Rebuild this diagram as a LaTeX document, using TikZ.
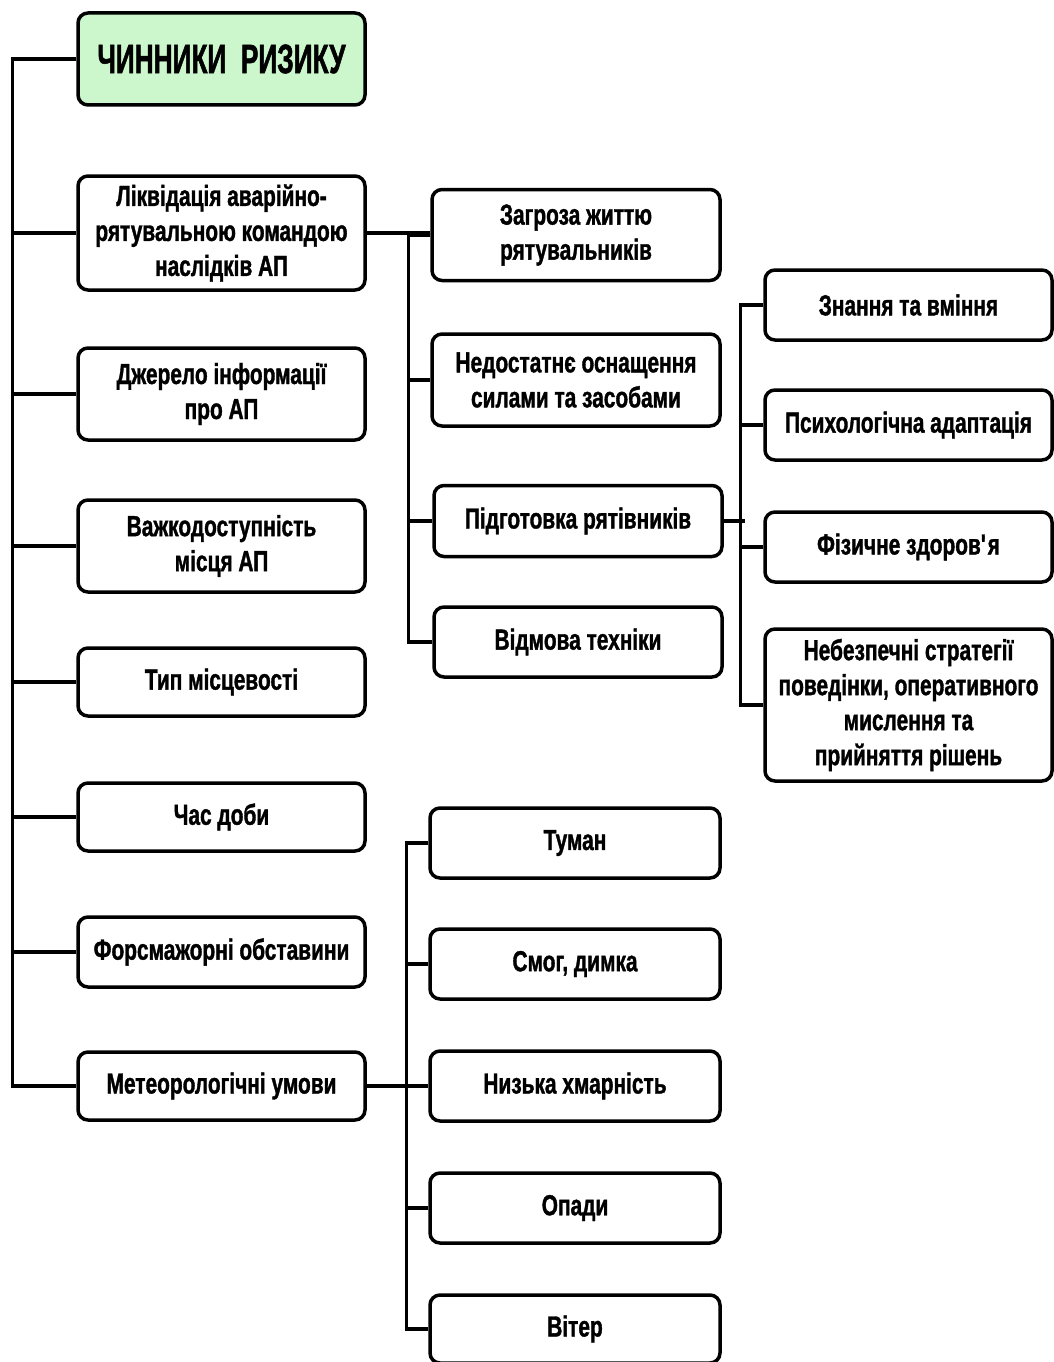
\documentclass[tikz,border=0pt]{standalone}
\usepackage{fontspec}
\setmainfont{Liberation Sans}[FakeStretch=0.72, FakeBold=1.2]
\newfontfamily\rootfont{Liberation Sans}[FakeStretch=0.64, FakeBold=1.2]
\usepackage{tikz}
\usepackage{xcolor}
\definecolor{rootgreen}{HTML}{CCF7CC}

\tikzset{
box/.style={draw, line width=3.5pt, rounded corners=10pt, fill=white, align=center,
  font=\fontsize{29}{35}\selectfont\bfseries, inner sep=2pt},
link/.style={line width=3.5pt}
}

\begin{document}
\begin{tikzpicture}[x=1pt,y=-1pt]
\useasboundingbox (0,0) rectangle (1054,1362);
% left column
\node[box, fill=rootgreen, minimum width=287pt, minimum height=92pt, font=\rootfont\fontsize{41}{45}\selectfont\bfseries] (root) at (221.5,59) {ЧИННИКИ\ \ РИЗИКУ};
\node[box, minimum width=287pt, minimum height=114pt] (liq) at (221.5,233) {Ліквідація аварійно-\\рятувальною командою\\наслідків АП};
\node[box, minimum width=287pt, minimum height=92pt] (dzh) at (221.5,394) {Джерело інформації\\про АП};
\node[box, minimum width=287pt, minimum height=92pt] (vazh) at (221.5,546) {Важкодоступність\\місця АП};
\node[box, minimum width=287pt, minimum height=68pt] (typ) at (221.5,682) {Тип місцевості};
\node[box, minimum width=287pt, minimum height=68pt] (chas) at (221.5,817) {Час доби};
\node[box, minimum width=287pt, minimum height=70pt] (fors) at (221.5,952) {Форсмажорні обставини};
\node[box, minimum width=287pt, minimum height=68pt] (meteo) at (221.5,1086) {Метеорологічні умови};
% middle column, top
\node[box, minimum width=288pt, minimum height=91pt] (zahr) at (576,235) {Загроза життю\\рятувальників};
\node[box, minimum width=288pt, minimum height=92pt] (nedo) at (576,380) {Недостатнє оснащення\\силами та засобами};
\node[box, minimum width=288pt, minimum height=71pt] (pidh) at (578,521) {Підготовка рятівників};
\node[box, minimum width=288pt, minimum height=70pt] (vidm) at (578,642) {Відмова техніки};
% right column
\node[box, minimum width=287pt, minimum height=70pt] (znan) at (908.5,305) {Знання та вміння};
\node[box, minimum width=287pt, minimum height=70pt] (psyh) at (908.5,425) {Психологічна адаптація};
\node[box, minimum width=287pt, minimum height=70pt] (fiz) at (908.5,547) {Фізичне здоров\textquotesingle я};
\node[box, minimum width=287pt, minimum height=152pt] (nebez) at (908.5,705) {Небезпечні стратегії\\поведінки, оперативного\\мислення та\\прийняття рішень};
% middle column, bottom
\node[box, minimum width=290pt, minimum height=70pt] (tuman) at (575,843) {Туман};
\node[box, minimum width=290pt, minimum height=70pt] (smoh) at (575,964) {Смог, димка};
\node[box, minimum width=290pt, minimum height=70pt] (khmar) at (575,1086) {Низька хмарність};
\node[box, minimum width=290pt, minimum height=70pt] (opady) at (575,1208) {Опади};
\node[box, minimum width=290pt, minimum height=68pt] (viter) at (575,1329) {Вітер};

% left bus
\draw[link] (root.west) -- ++(-64,0) |- (meteo.west);
\foreach \n in {liq,dzh,vazh,typ,chas,fors}
  \draw[link] (\n.west) -- ++(-64,0);
% top middle bus
\draw[link] (liq.east) -- (zahr.west |- liq.east);
\draw[link] (zahr.west) -- ++(-22,0) |- (vidm.west);
\foreach \n in {nedo,pidh}
  \draw[link] (\n.west) -- (410,0 |- \n.west);
% right bus
\draw[link] (pidh.east) -- ++(21,0);
\draw[link] (znan.west) -- ++(-23,0) |- (nebez.west);
\foreach \n in {psyh,fiz}
  \draw[link] (\n.west) -- ++(-23,0);
% bottom middle bus
\draw[link] (meteo.east) -- (khmar.west);
\draw[link] (tuman.west) -- ++(-22,0) |- (viter.west);
\foreach \n in {smoh,opady}
  \draw[link] (\n.west) -- ++(-22,0);
\end{tikzpicture}
\end{document}
